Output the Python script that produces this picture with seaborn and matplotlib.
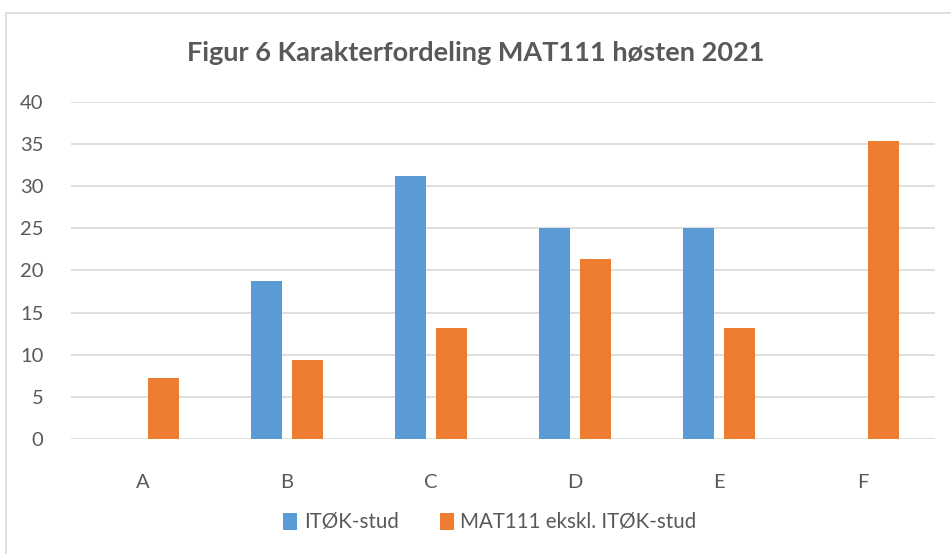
import matplotlib
matplotlib.use("Agg")
import matplotlib.pyplot as plt
from matplotlib.patches import Rectangle
import pandas as pd
import seaborn as sns

# ── data ───────────────────────────────────────────────────────────────────────
grades   = ["A", "B", "C", "D", "E", "F"]
itok     = [0, 18.75, 31.25, 25, 25, 0]
mat111   = [7.2, 9.4, 13.2, 21.4, 13.2, 35.4]
series   = ["ITØK-stud", "MAT111 ekskl. ITØK-stud"]
colors   = ["#5b9bd5", "#ed7d31"]

df = pd.DataFrame({
    "grade": grades * 2,
    "value": itok + mat111,
    "group": [series[0]] * len(grades) + [series[1]] * len(grades),
})

# ── figure ─────────────────────────────────────────────────────────────────────
sns.set_style("white")
plt.rcParams["font.family"] = ["Lato", "DejaVu Sans"]
TXT = "#595959"

fig = plt.figure(figsize=(9.51, 5.54), dpi=100)
ax = fig.add_axes([0.0747, 0.2076, 0.9083, 0.6083])

sns.barplot(data=df, x="grade", y="value", hue="group", palette=colors,
            saturation=1, width=0.57, gap=0.23, linewidth=0, ax=ax, legend=True)

ax.set_ylim(0, 40)
ax.set_xlim(-0.5, 5.5)
ax.set_yticks(range(0, 41, 5))
ax.yaxis.grid(True, color="#d9d9d9", linewidth=1.2)
ax.set_axisbelow(True)
for s in ax.spines.values():
    s.set_visible(False)
ax.tick_params(axis="both", length=0, labelsize=14.5, colors=TXT)
ax.tick_params(axis="y", pad=20)
ax.tick_params(axis="x", pad=25)
ax.set_xlabel("")
ax.set_ylabel("")

ax.legend(loc="center", bbox_to_anchor=(0.515, 0.0571), bbox_transform=fig.transFigure,
          ncol=2, frameon=False, fontsize=14.8, handlelength=0.7, handleheight=0.9,
          handletextpad=0.3, columnspacing=2.0, labelcolor=TXT)

fig.text(0.5, 0.905, "Figur 6 Karakterfordeling MAT111 høsten 2021",
         ha="center", va="center", fontsize=19.5, fontweight="bold", color=TXT)

fig.patches.append(Rectangle((0.006, -0.01), 1.2, 0.987, transform=fig.transFigure,
                             fill=False, edgecolor="#d9d9d9", linewidth=1.2))

fig.savefig("out.png", dpi=100)
